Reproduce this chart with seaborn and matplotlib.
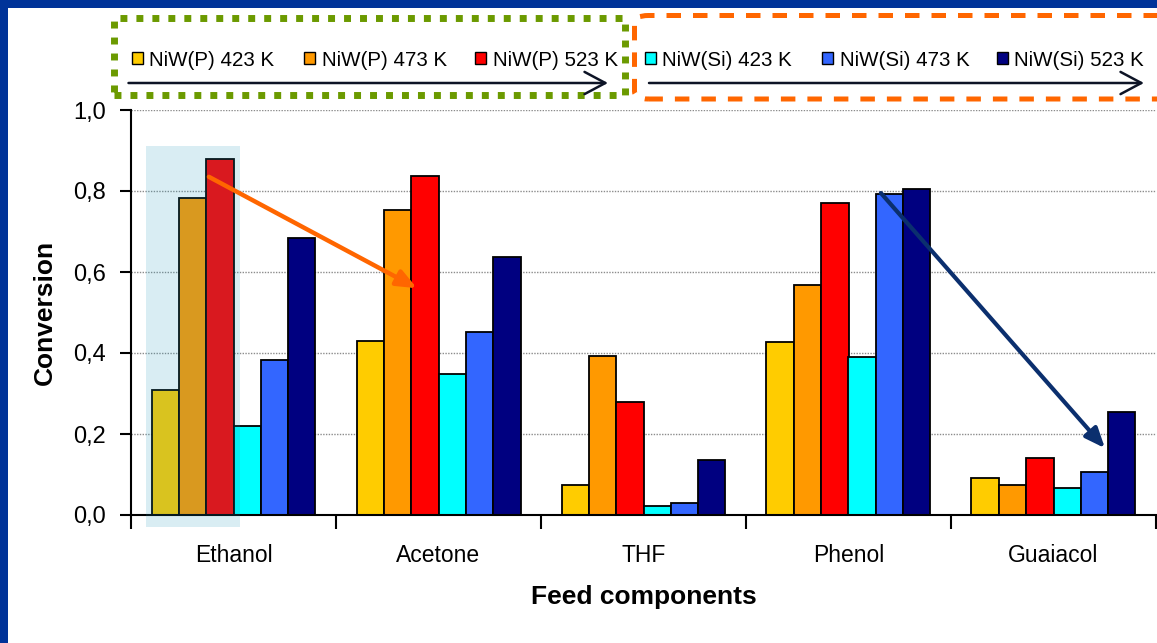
import numpy as np
import pandas as pd
import matplotlib
matplotlib.use("Agg")
import matplotlib.pyplot as plt
import seaborn as sns
from matplotlib.patches import Rectangle, FancyArrowPatch, FancyBboxPatch
from matplotlib.ticker import FuncFormatter

# ---------------- data ----------------
components = ["Ethanol", "Acetone", "THF", "Phenol", "Guaiacol"]
series = ["NiW(P) 423 K", "NiW(P) 473 K", "NiW(P) 523 K",
          "NiW(Si) 423 K", "NiW(Si) 473 K", "NiW(Si) 523 K"]
niwp_423 = [0.309, 0.430, 0.075, 0.427, 0.092]
niwp_473 = [0.783, 0.752, 0.393, 0.568, 0.075]
niwp_523 = [0.879, 0.837, 0.278, 0.770, 0.141]
niwsi_423 = [0.220, 0.347, 0.021, 0.391, 0.066]
niwsi_473 = [0.383, 0.453, 0.030, 0.793, 0.106]
niwsi_523 = [0.683, 0.638, 0.137, 0.805, 0.255]
colors = ["#FFCC00", "#FF9900", "#FF0000", "#00FFFF", "#3366FF", "#000080"]
yticks = [0.0, 0.2, 0.4, 0.6, 0.8, 1.0]

values = [niwp_423, niwp_473, niwp_523, niwsi_423, niwsi_473, niwsi_523]
df = pd.DataFrame({
    "component": components * len(series),
    "series": [s for s in series for _ in components],
    "conversion": [v for vals in values for v in vals],
})

# ---------------- style ----------------
sns.set_style("white")
plt.rcParams["font.family"] = ["Liberation Sans", "DejaVu Sans"]
plt.rcParams["text.color"] = "black"
plt.rcParams["axes.labelcolor"] = "black"
plt.rcParams["xtick.color"] = "black"
plt.rcParams["ytick.color"] = "black"

W, H = 1157, 643
fig = plt.figure(figsize=(W / 100, H / 100), dpi=100)
fig.patch.set_facecolor("#003399")
px = lambda x: x / W
py = lambda y: 1 - y / H

# white slide area inside the blue frame
fig.add_artist(Rectangle((px(8), 0), 1, py(8), transform=fig.transFigure,
                         facecolor="white", edgecolor="none", zorder=-10))

ax = fig.add_axes([px(131), py(515), px(1156) - px(131), py(110) - py(515)])
ax.set_facecolor("none")

sns.barplot(data=df, x="component", y="conversion", hue="series",
            order=components, hue_order=series, palette=colors,
            saturation=1, edgecolor="black", linewidth=1.3,
            errorbar=None, legend=False, ax=ax, zorder=2)

ax.set_xlim(-0.5, 4.5)
ax.set_ylim(0, 1.0)
ax.set_yticks(yticks)
ax.yaxis.set_major_formatter(FuncFormatter(lambda v, p: f"{v:.1f}".replace(".", ",")))
ax.tick_params(axis="y", left=True, labelsize=17, length=8, width=1.5,
               direction="out", pad=10, colors="black")
ax.set_xticks(range(len(components)))
ax.set_xticklabels(components)
ax.tick_params(axis="x", which="major", bottom=True, labelsize=16.5, length=0,
               pad=21, colors="black")
ax.set_xticks(np.arange(-0.5, len(components), 1.0), minor=True)
ax.tick_params(axis="x", which="minor", bottom=True, length=10, width=1.5,
               direction="out", colors="black")

ax.yaxis.grid(True, color="#8c8c8c", linestyle=(0, (1, 1)), linewidth=1.0)
ax.set_axisbelow(True)
for s in ["top", "right"]:
    ax.spines[s].set_visible(False)
for s in ["left", "bottom"]:
    ax.spines[s].set_color("black")
    ax.spines[s].set_linewidth(1.5)

ax.set_ylabel("Conversion", fontsize=19, fontweight="bold", labelpad=12)
ax.set_xlabel("Feed components", fontsize=19, fontweight="bold", labelpad=13)

# highlight of the Ethanol / NiW(P) group
ax.add_patch(Rectangle((-0.428, -0.030), 0.46, 0.941, transform=ax.transData,
                       facecolor=(32 / 255, 153 / 255, 188 / 255), alpha=0.17,
                       edgecolor="none", zorder=3, clip_on=False))

# trend arrows
ax.annotate("", xy=(0.895, 0.56), xytext=(-0.12, 0.835),
            arrowprops=dict(arrowstyle="-|>,head_length=0.6,head_width=0.25",
                            color="#FF6600", lw=3.2, mutation_scale=20,
                            shrinkA=0, shrinkB=0), zorder=5)
ax.annotate("", xy=(4.251, 0.165), xytext=(3.158, 0.795),
            arrowprops=dict(arrowstyle="-|>,head_length=0.6,head_width=0.25",
                            color="#0B2F6E", lw=3.0, mutation_scale=20,
                            shrinkA=0, shrinkB=0), zorder=5)

# ---------------- legend area ----------------
# green dotted box (NiW(P)) and orange dashed box (NiW(Si))
fig.add_artist(Rectangle((px(113.5), py(95)), px(625) - px(113.5), py(18.5) - py(95),
                         transform=fig.transFigure, fill=False, edgecolor="#6B9A00",
                         linewidth=5.0, linestyle=(0, (1.0, 1.3)), zorder=4))
fig.add_artist(FancyBboxPatch((px(634.5), py(99)), px(1200) - px(634.5), py(15.5) - py(99),
                              boxstyle="round,pad=0,rounding_size=0.012",
                              transform=fig.transFigure, fill=False, edgecolor="#FF6600",
                              linewidth=3.6, linestyle=(0, (2.9, 2.4)), zorder=4))

sq_x = [131.5, 304, 475, 644.5, 822, 997]
for name, col, x0 in zip(series, colors, sq_x):
    fig.add_artist(Rectangle((px(x0), py(64)), px(11), py(52) - py(64),
                             transform=fig.transFigure, facecolor=col,
                             edgecolor="black", linewidth=1.0, zorder=6))
    fig.text(px(x0 + 17.5), py(66), name, fontsize=14.8, ha="left",
             va="baseline", color="black", zorder=6)

for xa, xb in [(128.5, 608), (649, 1144)]:
    fig.add_artist(FancyArrowPatch((px(xa), py(83)), (px(xb), py(83)),
                                   transform=fig.transFigure,
                                   arrowstyle="->,head_length=0.75,head_width=0.4",
                                   mutation_scale=20, color="#0D1426", lw=1.8,
                                   shrinkA=0, shrinkB=0, zorder=6))

fig.savefig("out.png", dpi=100, facecolor=fig.get_facecolor())
